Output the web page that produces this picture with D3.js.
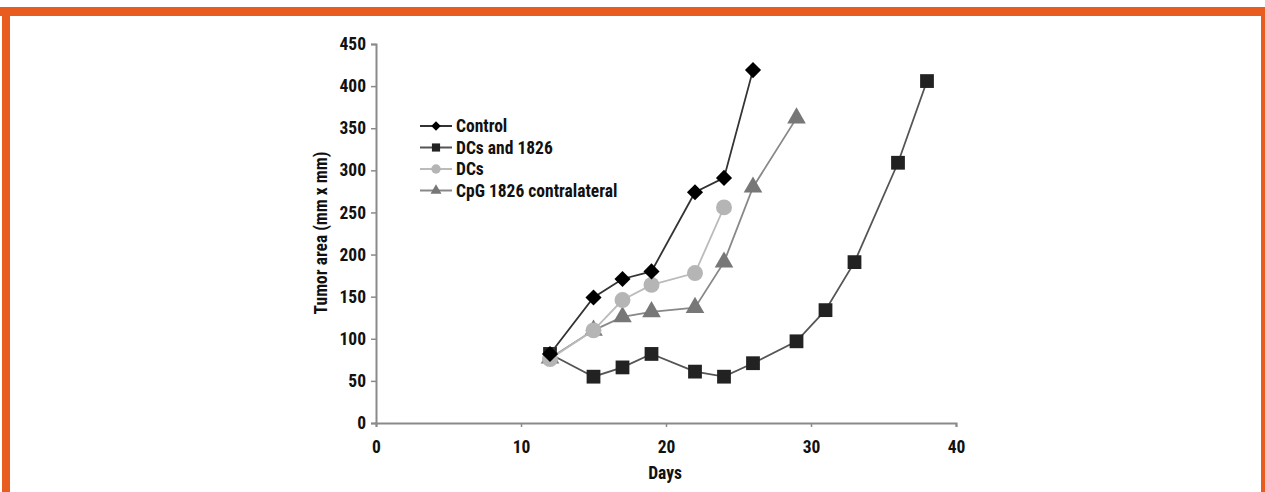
<!DOCTYPE html>
<html>
<head>
<meta charset="utf-8">
<script src="https://cdn.jsdelivr.net/npm/d3@7/dist/d3.min.js"></script>
<style>
  body { margin: 0; background: #fff; }
  text { font-family: "Liberation Sans Narrow", "Roboto Condensed", "Liberation Sans", sans-serif; font-weight: bold; }
</style>
</head>
<body>
<div id="chart"></div>
<script>
(function () {
var W = 1265, H = 492;

// data
var seriesNames = ["Control", "DCs and 1826", "DCs", "CpG 1826 contralateral"];
var controlDays = [12, 15, 17, 19, 22, 24, 26];
var controlVals = [82, 149, 171, 180, 274, 291, 419];
var dcs1826Days = [12, 15, 17, 19, 22, 24, 26, 29, 31, 33, 36, 38];
var dcs1826Vals = [82, 55, 66, 82, 61, 55, 71, 97, 134, 191, 309, 406];
var dcsDays = [12, 15, 17, 19, 22, 24];
var dcsVals = [76, 110, 146, 164, 178, 256];
var cpgDays = [12, 15, 17, 19, 22, 24, 26, 29];
var cpgVals = [77, 110, 126, 132, 137, 191, 280, 362];
var xTicks = [0, 10, 20, 30, 40];
var yTicks = [0, 50, 100, 150, 200, 250, 300, 350, 400, 450];

var series = [
  { name: seriesNames[1], days: dcs1826Days, vals: dcs1826Vals, line: "#555", fill: "#222", sym: d3.symbolSquare, size: 190, rot: 0 },
  { name: seriesNames[3], days: cpgDays, vals: cpgVals, line: "#888", fill: "#777", sym: d3.symbolTriangle, size: 150, rot: 0 },
  { name: seriesNames[2], days: dcsDays, vals: dcsVals, line: "#bbb", fill: "#b5b5b5", sym: d3.symbolCircle, size: 200, rot: 0 },
  { name: seriesNames[0], days: controlDays, vals: controlVals, line: "#333", fill: "#000", sym: d3.symbolSquare, size: 130, rot: 45 }
];

var svg = d3.select("#chart").append("svg").attr("width", W).attr("height", H);

// orange frame
var orange = "#e85d1f";
svg.append("rect").attr("x", 0).attr("y", 7).attr("width", W).attr("height", 9).attr("fill", orange);
svg.append("rect").attr("x", 2).attr("y", 7).attr("width", 8).attr("height", H - 7).attr("fill", orange);
svg.append("rect").attr("x", 1261).attr("y", 7).attr("width", 4).attr("height", H - 7).attr("fill", orange);

var x = d3.scaleLinear().domain([0, 40]).range([376, 956]);
var y = d3.scaleLinear().domain([0, 450]).range([423, 44]);

var xAxis = svg.append("g").attr("transform", "translate(0," + y(0) + ")")
  .call(d3.axisBottom(x).tickValues(xTicks).tickSize(4).tickPadding(14));
var yAxis = svg.append("g").attr("transform", "translate(" + x(0) + ",0)")
  .call(d3.axisLeft(y).tickValues(yTicks).tickSize(5).tickPadding(5));

[xAxis, yAxis].forEach(function (a) {
  a.select(".domain").attr("stroke", "#8a8a8a").attr("stroke-width", 2);
  a.selectAll(".tick line").attr("stroke", "#8a8a8a").attr("stroke-width", 1.5);
  a.selectAll(".tick text").attr("fill", "#111").style("font-size", "17.5px");
});

svg.append("text").attr("x", 665).attr("y", 479).attr("text-anchor", "middle")
  .style("font-size", "17.5px").attr("fill", "#111").text("Days");
svg.append("text").attr("transform", "translate(327,233) rotate(-90)").attr("text-anchor", "middle")
  .style("font-size", "17.5px").attr("fill", "#111").text("Tumor area (mm x mm)");

var line = d3.line().x(function (d) { return x(d[0]); }).y(function (d) { return y(d[1]); });

series.forEach(function (s) {
  var pts = s.days.map(function (d, i) { return [d, s.vals[i]]; });
  svg.append("path").datum(pts).attr("d", line).attr("fill", "none")
    .attr("stroke", s.line).attr("stroke-width", 1.8);
  svg.selectAll(null).data(pts).enter().append("path")
    .attr("transform", function (d) { return "translate(" + x(d[0]) + "," + y(d[1]) + ") rotate(" + s.rot + ")"; })
    .attr("d", d3.symbol().type(s.sym).size(s.size))
    .attr("fill", s.fill);
});

// legend
var legendOrder = [series[3], series[0], series[2], series[1]];
var lg = svg.append("g");
legendOrder.forEach(function (s, i) {
  var ly = 126 + i * 21.5;
  lg.append("line").attr("x1", 420).attr("x2", 452).attr("y1", ly).attr("y2", ly)
    .attr("stroke", s.line).attr("stroke-width", 2);
  lg.append("path").attr("transform", "translate(436," + ly + ") rotate(" + s.rot + ")")
    .attr("d", d3.symbol().type(s.sym).size(s.size * 0.35)).attr("fill", s.fill);
  lg.append("text").attr("x", 456).attr("y", ly + 6).style("font-size", "17.5px")
    .attr("fill", "#111").text(s.name);
});
})();
</script>
</body>
</html>
